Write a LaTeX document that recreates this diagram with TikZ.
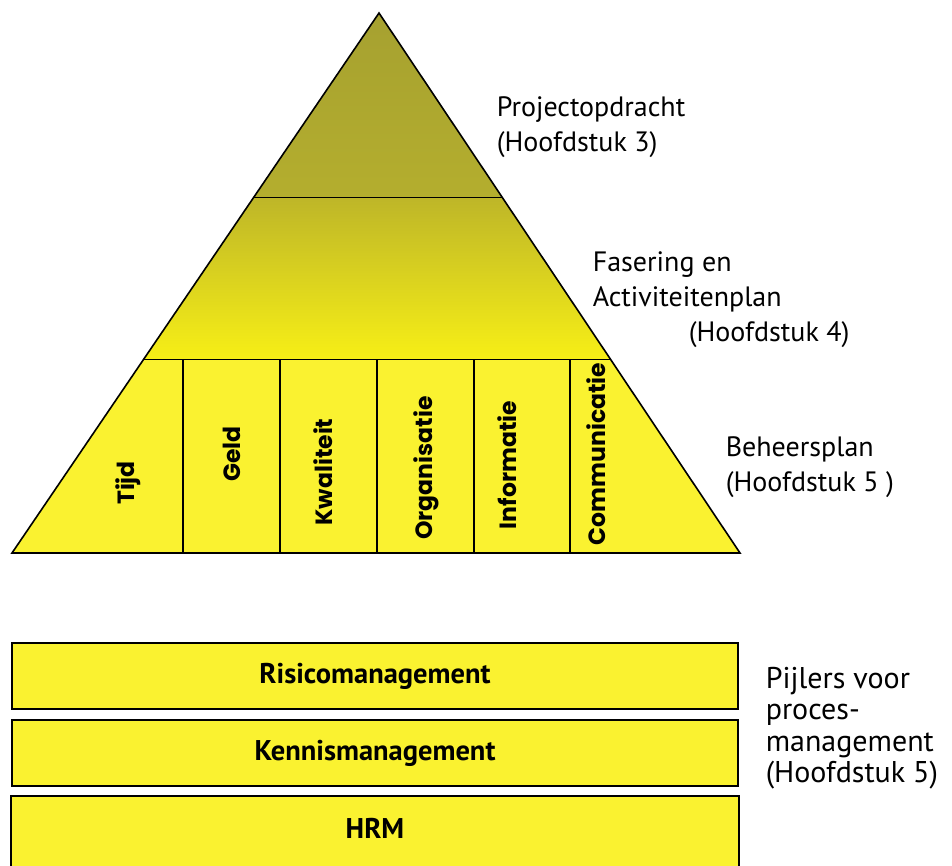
\documentclass[tikz,border=0pt]{standalone}
\usepackage{fontspec}
\setmainfont{PT Sans}
\newfontfamily\pillarfont{Poppins}
\usetikzlibrary{calc}
\definecolor{olivetop}{RGB}{166,161,48}
\definecolor{olivebot}{RGB}{180,174,46}
\definecolor{midtop}{RGB}{190,182,40}
\definecolor{midbot}{RGB}{247,239,22}
\definecolor{baseyellow}{RGB}{250,242,48}

\begin{document}
\begin{tikzpicture}[x=1pt,y=-1pt,line width=1.6pt,
  sidetext/.style={align=left,anchor=north west,inner sep=0pt,font=\fontsize{28}{35}\selectfont},
  pillar/.style={rotate=90,inner sep=0pt,font=\pillarfont\bfseries\fontsize{23.5}{27}\selectfont},
  barbox/.style={fill=baseyellow,minimum width=726pt,minimum height=66pt,inner sep=0pt,font=\bfseries\fontsize{28.5}{32}\selectfont}]
\useasboundingbox (0,0) rectangle (952,865);
\coordinate (apex) at (379,13);
\coordinate (bl) at (12,553);
\coordinate (br) at (740,553);
\coordinate (l1) at ($(apex)!0.342!(bl)$);
\coordinate (r1) at ($(apex)!0.342!(br)$);
\coordinate (l2) at ($(apex)!0.6414!(bl)$);
\coordinate (r2) at ($(apex)!0.6414!(br)$);
\fill[top color=olivetop,bottom color=olivebot] (apex) -- (r1) -- (l1) -- cycle;
\fill[top color=midtop,bottom color=midbot] (l1) -- (r1) -- (r2) -- (l2) -- cycle;
\fill[baseyellow] (l2) -- (r2) -- (br) -- (bl) -- cycle;
\draw (apex) -- (br) -- (bl) -- cycle;
\draw (l1) -- (r1);
\draw (l2) -- (r2);
\foreach \x in {183,280,377,474,570}
  \draw (\x,359) -- (\x,553);
\node[pillar] (tijd) at (128,483) {Tijd};
\node[pillar] (geld) at (232,454) {Geld};
\node[pillar] (kwaliteit) at (323,472) {Kwaliteit};
\node[pillar] (organisatie) at (426,468) {Organisatie};
\node[pillar] (informatie) at (507,465) {Informatie};
\node[pillar] (communicatie) at (596,454) {Communicatie};
\node[sidetext] (opdracht) at (496,96) {Projectopdracht\\(Hoofdstuk 3)};
\node[sidetext] (fasering) at (592,251) {Fasering en\\Activiteitenplan\\\hspace*{96pt}(Hoofdstuk 4)};
\node[sidetext] (beheer) at (725,436) {Beheersplan\\(Hoofdstuk 5 )};
\node[barbox,draw] (risico) at (375,676) {Risicomanagement};
\node[barbox,draw] (kennis) at (375,753) {Kennismanagement};
\node[barbox,minimum height=70pt] (hrm) at (375,832) {\raisebox{0.5ex}{HRM}};
\draw (hrm.south west) -- (hrm.north west) -- (hrm.north east) -- (hrm.south east);
\node[sidetext,font=\fontsize{30}{31.5}\selectfont] (pijlers) at (765,666) {Pijlers voor\\proces-\\management\\(Hoofdstuk 5)};
\end{tikzpicture}
\end{document}
